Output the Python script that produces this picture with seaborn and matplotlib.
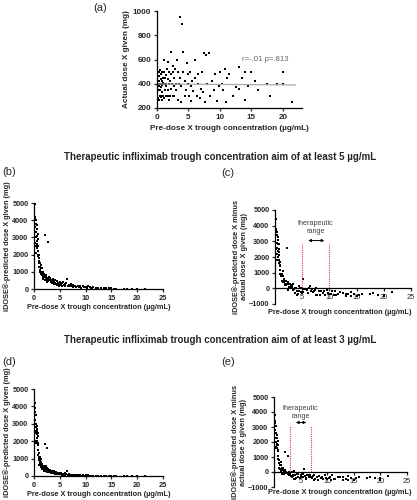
import numpy as np
import pandas as pd
import matplotlib
matplotlib.use("Agg")
import matplotlib.pyplot as plt
import seaborn as sns

# --- trough concentration (µg/mL), same patients in every panel ---
conc = [0.1, 0.15, 0.2, 0.2, 0.25, 0.3, 0.3, 0.35, 0.4, 0.4, 0.45, 0.5, 0.5, 0.55,
        0.6, 0.6, 0.65, 0.7, 0.7, 0.75, 0.8, 0.8, 0.85, 0.9, 0.9, 0.95, 1.0, 1.0,
        1.1, 1.1, 1.2, 1.2, 1.3, 1.3, 1.4, 1.4, 1.5, 1.5, 1.6, 1.7, 1.7, 1.8, 1.8, 1.9, 1.9, 2.0,
        2.1, 2.1, 2.2, 2.3, 2.3, 2.4, 2.5, 2.5, 2.6, 2.7, 2.8, 2.8, 2.9, 3.0,
        3.1, 3.2, 3.3, 3.4, 3.5, 3.6, 3.7, 3.8, 3.9, 4.0, 4.1, 4.2, 4.4, 4.5, 4.6, 4.8, 4.9, 5.0,
        5.1, 5.2, 5.4, 5.5, 5.6, 5.8, 6.0, 6.1, 6.3, 6.5, 6.6, 6.8, 7.0, 7.1, 7.3, 7.5, 7.6, 7.8, 8.0, 8.2,
        8.5, 8.8, 9.0, 9.2, 9.5, 9.8, 10.0, 10.3, 10.5, 10.8, 11.0, 11.2, 11.5, 12.0,
        12.5, 13.0, 13.0, 13.5, 14.0, 14.0, 14.5, 15.0, 15.5, 16.0, 17.5, 18.0, 19.0, 20.0, 20.0, 21.5]

# (a) actual dose given (mg)
dose_actual = [300, 400, 500, 280, 350, 420, 500, 270, 380, 460, 300, 400, 510, 350,
               440, 290, 400, 480, 370, 300, 420, 500, 330, 270, 390, 450, 300, 410,
               600, 280, 400, 500, 350, 450, 300, 470, 400, 380, 520, 300, 440, 580, 350, 400, 500, 270,
               420, 300, 480, 360, 660, 400, 500, 300, 550, 450, 380, 300, 520, 400,
               350, 600, 500, 270, 400, 450, 950, 250, 380, 890, 500, 660, 300, 420, 350, 570, 480, 400,
               300, 500, 380, 260, 420, 340, 600, 450, 300, 480, 400, 280, 360, 500, 330, 650, 250, 640, 400, 655,
               300, 420, 350, 480, 260, 380, 500, 400, 350, 520, 250, 450, 480, 300,
               370, 540, 360, 450, 500, 270, 380, 500, 420, 350, 400, 300, 400, 500, 400, 250]

# (b) predicted dose, aim >= 5 µg/mL
pred_aim5 = [4200, 3600, 4950, 2700, 4100, 3800, 3000, 2500, 4000, 3300, 2100, 3700, 2800, 3500,
             2400, 3100, 2600, 2900, 3200, 2200, 2000, 2500, 1900, 2000, 1600, 1800, 1500, 1300,
             1500, 1100, 1300, 1000, 1200, 900, 1400, 1000, 800, 1200, 900, 700, 1000, 800, 600, 900, 700, 800,
             700, 500, 3150, 800, 600, 700, 500, 400, 650, 550, 2750, 450, 700, 600,
             500, 650, 400, 550, 350, 450, 600, 300, 400, 500, 350, 300, 450, 250, 350, 300, 200, 400,
             300, 250, 350, 200, 400, 250, 300, 150, 350, 600, 200, 250, 150, 300, 200, 100, 250, 150, 200, 100,
             150, 100, 200, 80, 150, 100, 120, 60, 150, 100, 80, 50, 100, 60,
             50, 80, 30, 60, 40, 20, 50, 30, 10, 20, 10, 0, 0, 10, 0, 0]

# (c) predicted minus actual, aim >= 5 µg/mL
diff_aim5 = [3800, 3400, 4450, 2500, 3700, 3400, 2600, 2200, 3600, 2900, 1800, 3300, 2400, 3100,
             2000, 2800, 2300, 2500, 2800, 1800, 1600, 2100, 1500, 1700, 1200, 1400, 1200, 900,
             900, 800, 900, 500, 800, 500, 1100, 500, 400, 800, 400, 400, 600, 200, 250, 500, 200, 500,
             300, 200, 2600, 400, -100, 300, 0, 100, 100, 100, 300, 0, 200, 200,
             150, 50, -100, 300, -50, 0, -300, 50, 20, -400, -150, -350, 150, -150, 0, -250, -300, 0,
             600, -250, -30, -60, -20, -90, -300, -300, 50, 120, -200, -30, -210, -200, -130, -450, 0, -450, -200, -450,
             -150, -320, -150, -400, -110, -280, -380, -340, -200, -420, -170, -400, -380, -240,
             -320, -460, -330, -390, -460, -250, -330, -470, -410, -330, -390, -300, -400, -490, -400, -250]

# (d) predicted dose, aim >= 3 µg/mL
pred_aim3 = [4200, 3200, 3900, 2600, 3700, 3000, 2500, 2000, 3500, 2800, 1900, 2700, 2400, 2900,
             2000, 2600, 2200, 2300, 2500, 1800, 1500, 1900, 1200, 1100, 1000, 1300, 900, 650,
             1100, 800, 900, 700, 1000, 600, 800, 500, 650, 700, 400, 550, 450, 600, 500, 300, 600, 400,
             1850, 400, 500, 300, 600, 350, 450, 250, 1600, 300, 400, 250, 350, 300,
             250, 350, 200, 300, 150, 250, 200, 300, 150, 200, 100, 250, 150, 100, 200, 150, 100, 120,
             100, 150, 80, 120, 60, 100, 150, 50, 90, 300, 60, 100, 40, 80, 50, 30, 60, 40, 50, 30,
             40, 20, 50, 20, 30, 10, 30, 20, 30, 10, 20, 10, 20, 0,
             10, 20, 0, 10, 0, 0, 10, 0, 0, 0, 0, 0, 0, 0, 0, 0]

# (e) predicted minus actual, aim >= 3 µg/mL
diff_aim3 = [3800, 2800, 3400, 2300, 3300, 2600, 2000, 1700, 3100, 2300, 1600, 2300, 1900, 2500,
             1600, 2300, 1800, 1800, 2100, 1500, 1100, 1400, 900, 800, 600, 800, 600, 240,
             500, 500, 500, 200, 650, 150, 500, 30, 250, 300, -100, 250, 150, 20, 150, -100, 100, 130,
             1350, 100, 20, -60, -60, -50, -50, -50, 1100, -150, 20, -50, -170, -100,
             -100, -250, -300, 30, -250, -200, -450, 50, -230, -450, -400, -410, -150, -320, -150, -420, -380, -280,
             -200, -350, -300, -140, 200, -240, -450, -400, -210, -180, -340, -180, -320, -420, -280, -500, -190, -480, -350, -500,
             -260, -400, -300, -460, -230, -370, -470, -380, -320, -510, -230, -440, -460, -300,
             -360, -520, -360, -440, -500, -270, -370, -500, -420, -350, -400, -300, -400, -500, -400, -250]

df = pd.DataFrame({"conc": conc, "actual": dose_actual, "pred5": pred_aim5,
                   "diff5": diff_aim5, "pred3": pred_aim3, "diff3": diff_aim3})

sns.set_style("ticks")
plt.rcParams["font.family"] = ["Liberation Sans", "DejaVu Sans"]

XLAB = "Pre-dose X trough concentration (µg/mL)"
FS = 5.3
fig = plt.figure(figsize=(4.17, 5.0), dpi=100)


def style(ax, fs=FS):
    sns.despine(ax=ax)
    for s in ["left", "bottom"]:
        ax.spines[s].set_linewidth(0.9)
        ax.spines[s].set_color("black")
    ax.tick_params(length=2.5, width=0.9, pad=1.5, labelsize=fs)
    for lab in ax.get_xticklabels() + ax.get_yticklabels():
        lab.set_fontweight("bold")


def dots(ax, y):
    sns.scatterplot(data=df, x="conc", y=y, ax=ax, color="black", s=4.5,
                    marker="s", linewidth=0, legend=False)


# --- (a) ---
ax_a = fig.add_axes([0.376, 0.784, 0.348, 0.194])
dots(ax_a, "actual")
ax_a.plot([0, 22], [398, 390], color="#aaaaaa", lw=0.9)
ax_a.text(13.5, 600, "r=-.01 p=.813", color="#666666", fontsize=5.6, va="center")
ax_a.set_xlim(0, 23)
ax_a.set_ylim(200, 1000)
ax_a.set_xticks([0, 5, 10, 15, 20])
ax_a.set_yticks([200, 400, 600, 800, 1000])
style(ax_a, 5.8)
ax_a.set_xlabel(XLAB, fontsize=5.9, fontweight="bold", labelpad=3)
ax_a.set_ylabel("Actual dose X given (mg)", fontsize=5.9, fontweight="bold", labelpad=2)


def pred_panel(rect, y):
    ax = fig.add_axes(rect)
    dots(ax, y)
    ax.set_xlim(0, 25)
    ax.set_ylim(0, 5000)
    ax.set_xticks([0, 5, 10, 15, 20, 25])
    ax.set_yticks([0, 1000, 2000, 3000, 4000, 5000])
    style(ax)
    ax.set_xlabel(XLAB, fontsize=FS, fontweight="bold", labelpad=2)
    ax.set_ylabel("iDOSE®-predicted dose X given (mg)", fontsize=FS,
                  fontweight="bold", labelpad=1)
    return ax


def diff_panel(rect, y, lo, hi, text_y, arrow_y, line_top):
    ax = fig.add_axes(rect)
    dots(ax, y)
    ax.set_xlim(0, 25)
    ax.set_ylim(-1000, 5000)
    ax.set_xticks([5, 10, 15, 20, 25])
    ax.set_yticks([-1000, 0, 1000, 2000, 3000, 4000, 5000])
    style(ax)
    ax.spines["bottom"].set_position(("data", 0))
    for xv in (lo, hi):
        ax.plot([xv, xv], [0, line_top], color="#e8334a", lw=0.8, ls=(0, (1, 1)))
    ax.annotate("", xy=(lo + 0.6, arrow_y), xytext=(hi - 0.4, arrow_y),
                arrowprops=dict(arrowstyle="<|-|>", color="black", lw=0.7,
                                mutation_scale=4))
    ax.text((lo + hi) / 2, text_y, "therapeutic\nrange", ha="center", va="center",
            fontsize=5.2, color="#444444", linespacing=1.2)
    ax.set_xlabel("")
    ax.set_ylabel("iDOSE®-predicted dose X minus\nactual dose X given (mg)",
                  fontsize=FS, fontweight="bold", labelpad=1, linespacing=1.1)
    return ax


ax_b = pred_panel([0.0815, 0.422, 0.309, 0.172], "pred5")
ax_c = diff_panel([0.6595, 0.392, 0.326, 0.188], "diff5", 5, 10, 3900, 3050, 2900)
ax_d = pred_panel([0.0815, 0.048, 0.309, 0.174], "pred3")
ax_e = diff_panel([0.657, 0.026, 0.319, 0.180], "diff3", 3, 7, 4000, 3300, 3100)

fig.text(0.815, 1 - 313 / 500, XLAB, ha="center", va="center", fontsize=FS, fontweight="bold")
fig.text(0.815, 1 - 492 / 500, XLAB, ha="center", va="center", fontsize=FS, fontweight="bold")

# titles and panel letters
fig.text(0.527, 1 - 157 / 500, "Therapeutic infliximab trough concentration aim of at least 5 µg/mL",
         ha="center", va="center", fontsize=7.0, fontweight="bold")
fig.text(0.527, 1 - 340 / 500, "Therapeutic infliximab trough concentration aim of at least 3 µg/mL",
         ha="center", va="center", fontsize=7.0, fontweight="bold")
for lab, x, y in [("(a)", 100, 8), ("(b)", 9, 172), ("(c)", 228, 173),
                  ("(d)", 9, 362), ("(e)", 228, 362)]:
    fig.text(x / 417, 1 - y / 500, lab, ha="center", va="center", fontsize=8)

fig.savefig("out.png", dpi=100)
